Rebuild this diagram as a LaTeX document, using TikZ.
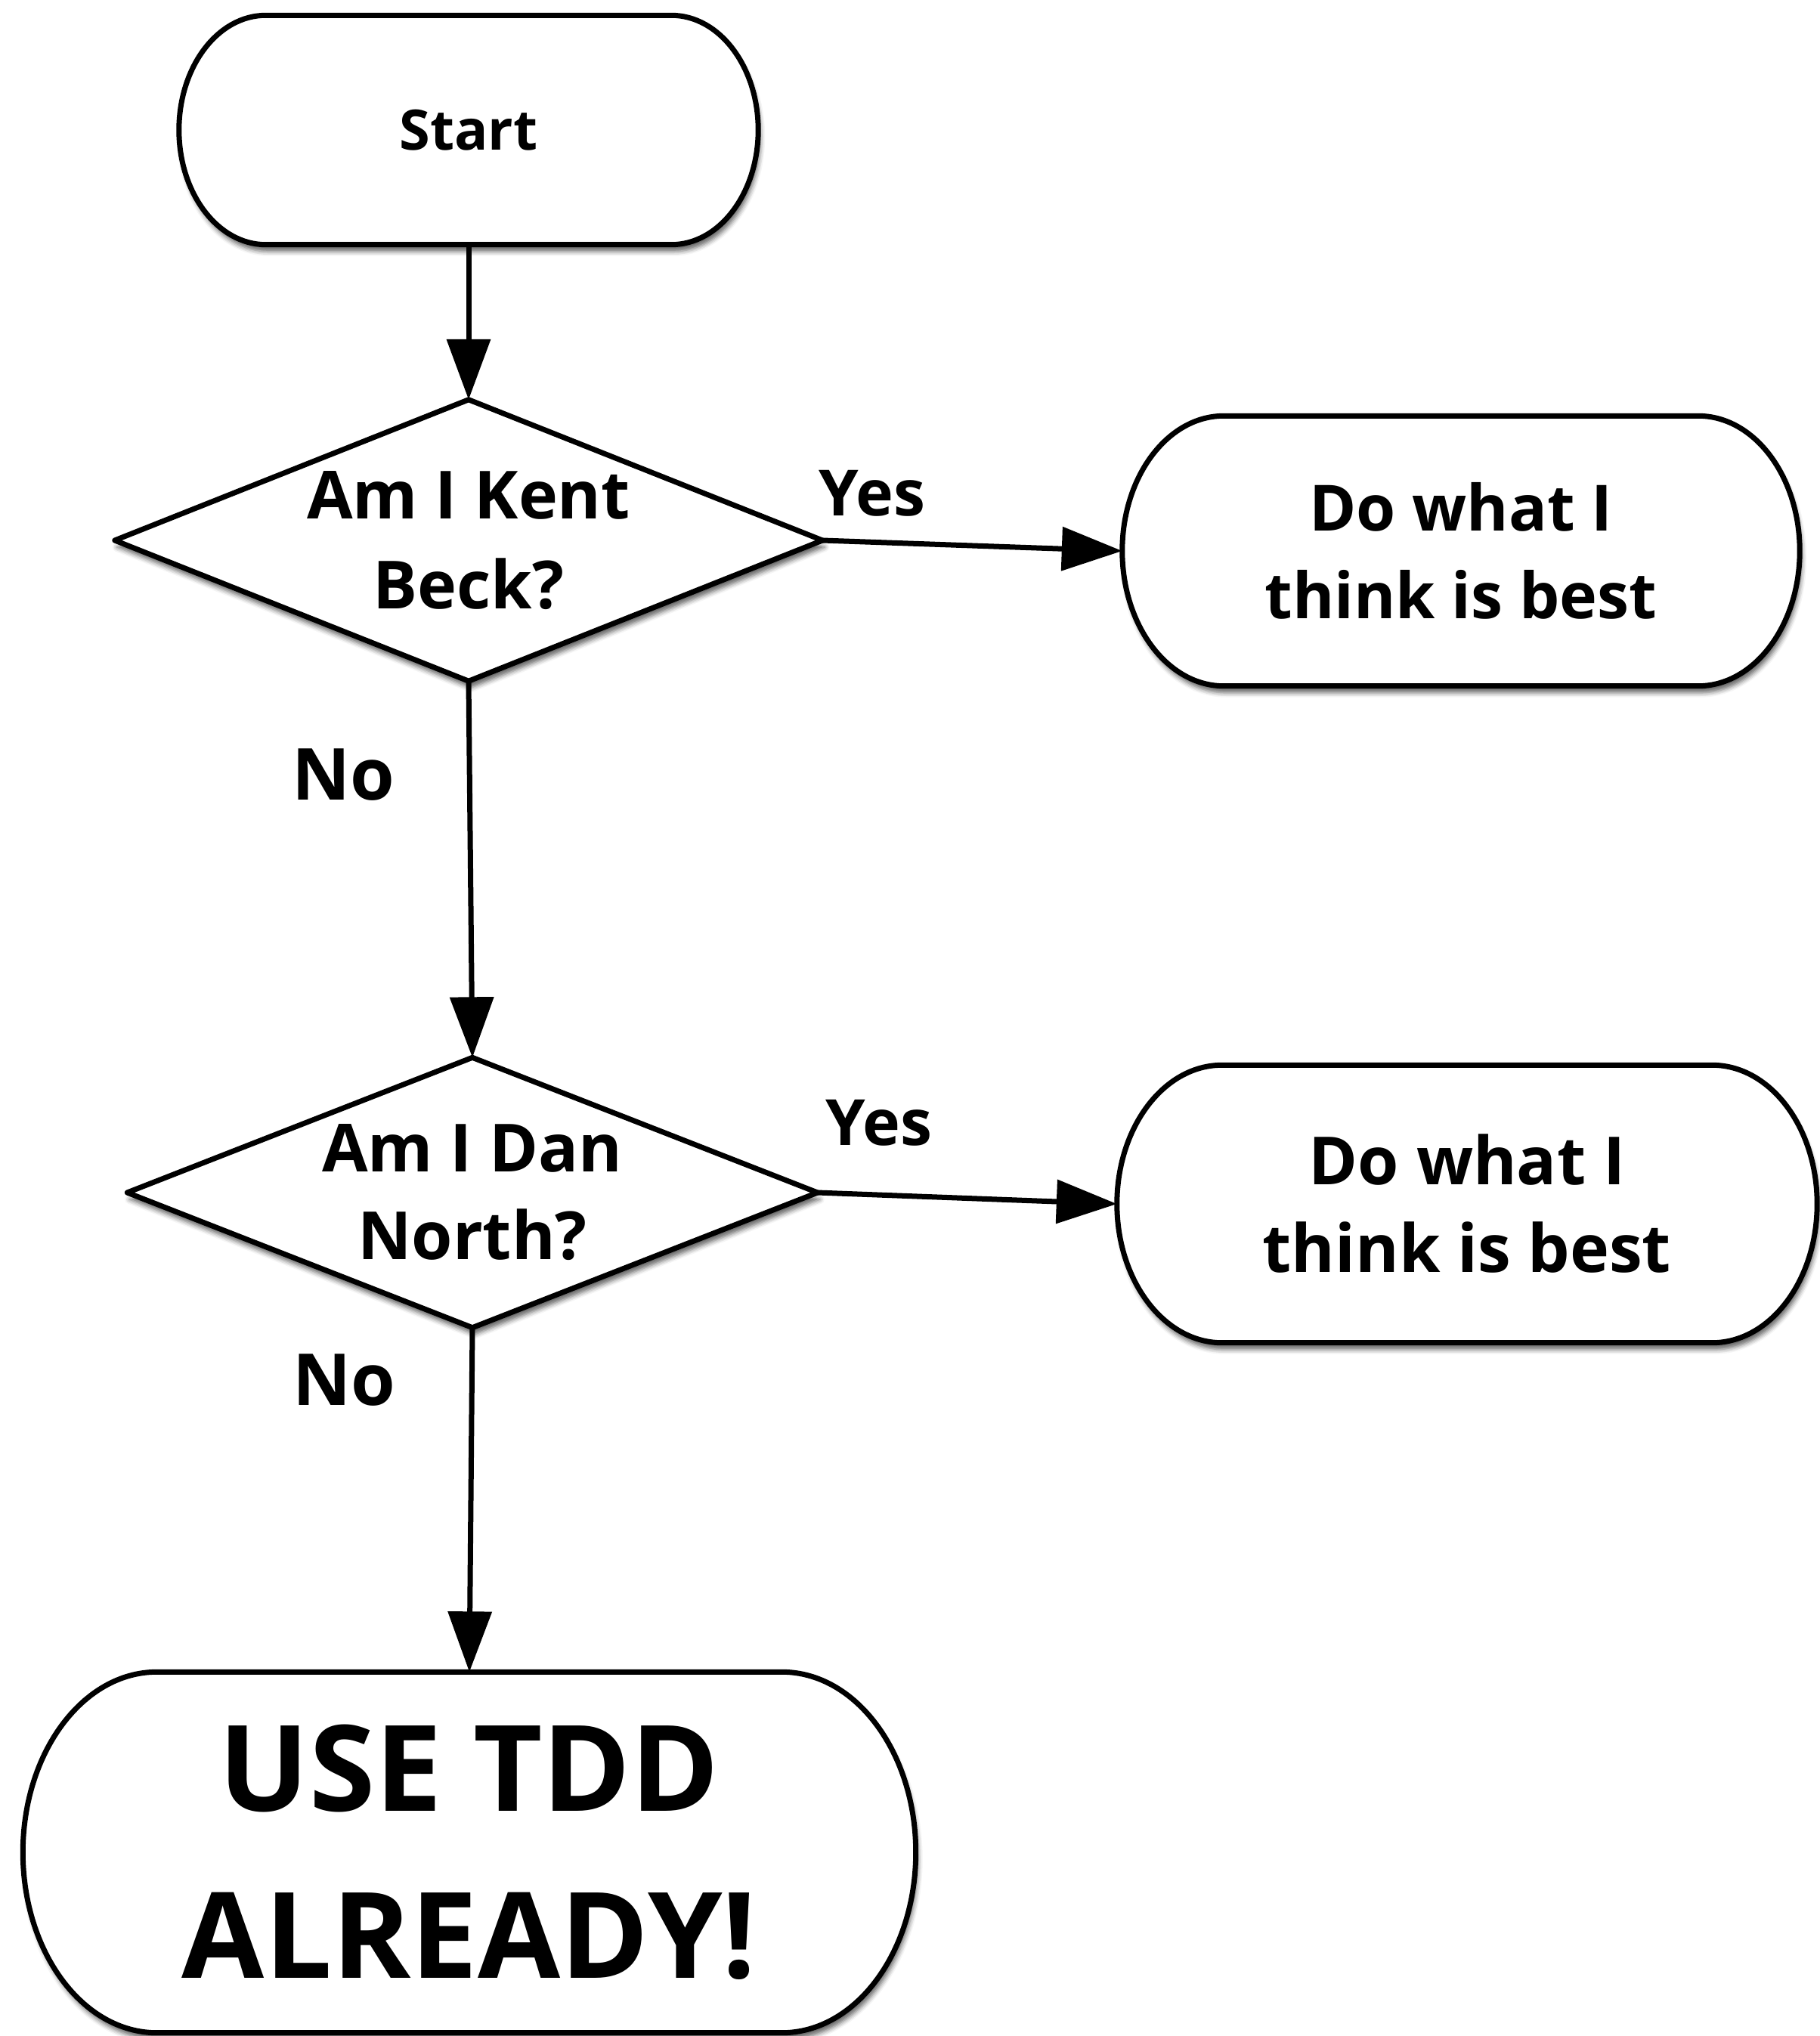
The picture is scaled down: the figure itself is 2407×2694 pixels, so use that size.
\documentclass[tikz,border=0pt]{standalone}
\usepackage{fontspec}
\setmainfont{Open Sans}
\usetikzlibrary{arrows.meta,calc,shadows.blur}
\pgfdeclarelayer{background}
\pgfsetlayers{background,main}
\definecolor{flowink}{RGB}{0,0,0}

% terminal box with elliptic ends, drawn round a named node
\newcommand{\capsule}[1]{%
  \path[outline] let \p1=(#1.north west), \p2=(#1.south east),
    \n1={0.15*(\x2-\x1)}, \n2={0.5*(\y1-\y2)} in
    (\x1+\n1,\y1) -- (\x2-\n1,\y1)
    arc[start angle=90, end angle=-90, x radius=\n1, y radius=\n2]
    -- (\x1+\n1,\y2)
    arc[start angle=270, end angle=90, x radius=\n1, y radius=\n2]
    -- cycle;}
% decision diamond through the four side anchors
\newcommand{\rhombus}[1]{%
  \path[outline] (#1.north) -- (#1.east) -- (#1.south) -- (#1.west) -- cycle;}

\begin{document}
\begin{tikzpicture}[x=0.1mm,y=0.1mm,
    box/.style={inner sep=0pt, align=center},
    outline/.style={draw=flowink, line width=0.7mm, fill=white, line join=round,
      blur shadow={shadow xshift=0.3mm, shadow yshift=-0.9mm,
        shadow blur radius=0.6mm, shadow opacity=60}},
    flow/.style={draw=flowink, line width=0.7mm, -{Triangle[length=8mm,width=5.7mm]}},
    tag/.style={inner sep=0pt, font=\bfseries\fontsize{24}{32}\selectfont}]
  \useasboundingbox (0,0) rectangle (2407,-2694);

  \node[box, minimum width=76.5mm, minimum height=30.2mm,
    font=\bfseries\fontsize{21}{28}\selectfont] (start) at (620,-172) {Start};
  \node[box, minimum width=93.5mm, minimum height=37.1mm,
    font=\bfseries\fontsize{25}{34}\selectfont] (kent) at (620,-715) {Am I Kent\\Beck?};
  \node[box, minimum width=89.5mm, minimum height=35.6mm,
    font=\bfseries\fontsize{24}{33}\selectfont] (best1) at (1933,-729) {Do what I\\think is best};
  \node[box, minimum width=91.2mm, minimum height=35.6mm,
    font=\bfseries\fontsize{25}{33}\selectfont] (dan) at (625,-1578) {Am I Dan\\North?};
  \node[box, minimum width=92.5mm, minimum height=36.6mm,
    font=\bfseries\fontsize{25}{33}\selectfont] (best2) at (1941,-1593) {Do what I\\think is best};
  \node[box, minimum width=118mm, minimum height=47.6mm,
    font=\bfseries\fontsize{45}{63}\selectfont] (tdd) at (621,-2451) {USE TDD\\ALREADY!};

  \begin{pgfonlayer}{background}
    \capsule{start} \rhombus{kent} \capsule{best1}
    \rhombus{dan} \capsule{best2} \capsule{tdd}
  \end{pgfonlayer}

  \draw[flow] (start.south) -- (kent.north);
  \draw[flow] (kent.east) -- (best1.west);
  \draw[flow] (kent.south) -- (dan.north);
  \draw[flow] (dan.east) -- (best2.west);
  \draw[flow] (dan.south) -- (tdd.north);

  \node[tag] (yes1) at (1154,-653) {Yes};
  \node[tag] (yes2) at (1163,-1486) {Yes};
  \node[tag, font=\bfseries\fontsize{27}{34}\selectfont] (no1) at (454,-1025) {No};
  \node[tag, font=\bfseries\fontsize{27}{34}\selectfont] (no2) at (455,-1826) {No};
\end{tikzpicture}
\end{document}
